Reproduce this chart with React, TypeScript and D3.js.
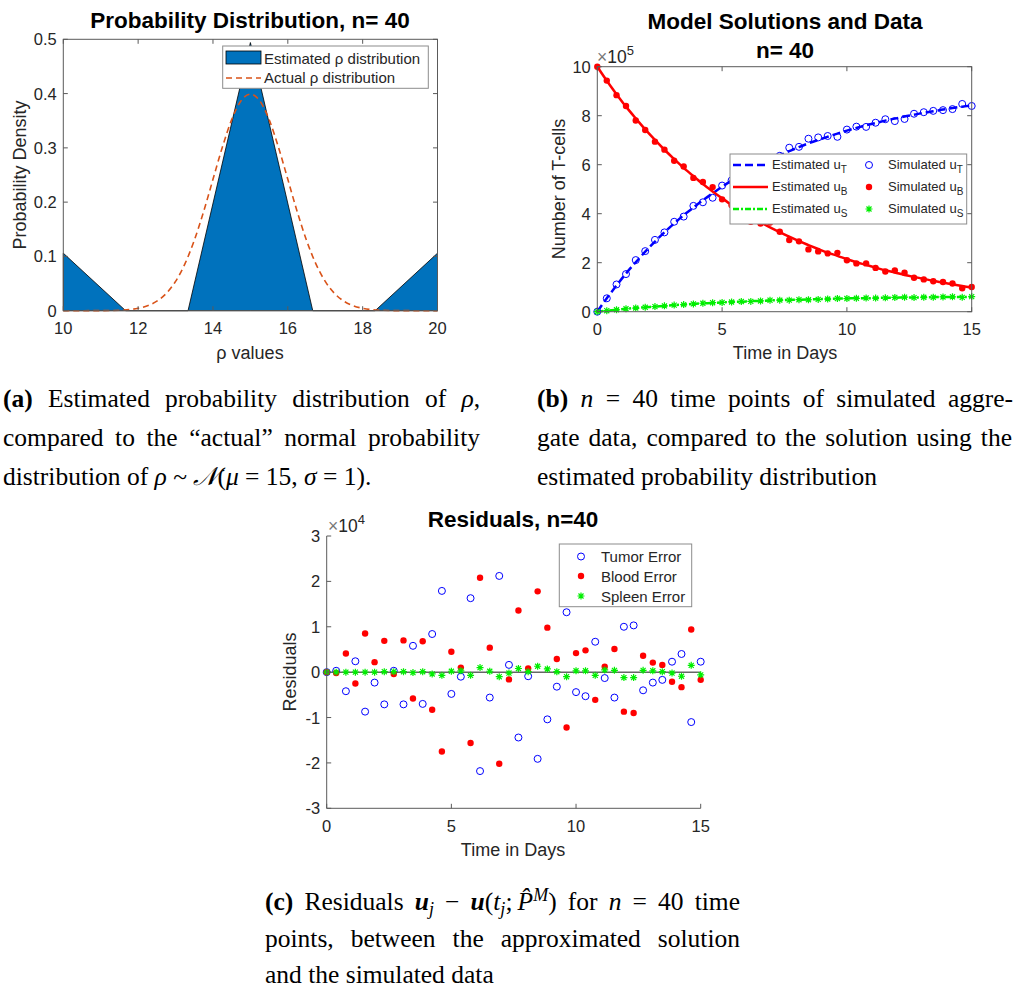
import React, { useEffect, useRef } from 'react';
import * as d3 from 'd3';

// ---- panel (a): probability distribution of rho ----
const rhoNodes = [10, 11.667, 13.333, 15, 16.667, 18.333, 20];
const rhoEstimated = [0.106, 0, 0, 0.494, 0, 0, 0.106];
const rhoActualX = [10, 11, 11.5, 12, 12.25, 12.5, 12.75, 13, 13.25, 13.5, 13.75, 14, 14.25, 14.5, 14.75, 15,
  15.25, 15.5, 15.75, 16, 16.25, 16.5, 16.75, 17, 17.25, 17.5, 17.75, 18, 18.5, 19, 20];
const rhoActualY = [0, 0.0001, 0.0009, 0.0044, 0.0091, 0.0175, 0.0317, 0.054, 0.0863, 0.1295, 0.1826, 0.242, 0.3011, 0.3521, 0.3867, 0.3989,
  0.3867, 0.3521, 0.3011, 0.242, 0.1826, 0.1295, 0.0863, 0.054, 0.0317, 0.0175, 0.0091, 0.0044, 0.0009, 0.0001, 0];
const rhoTicksX = [10, 12, 14, 16, 18, 20];
const rhoTicksY = [0, 0.1, 0.2, 0.3, 0.4, 0.5];

// ---- panel (b): model solutions (x10^5) ----
const tDays = [0, 0.38, 0.77, 1.15, 1.54, 1.92, 2.31, 2.69, 3.08, 3.46, 3.85, 4.23, 4.62, 5, 5.38, 5.77, 6.15, 6.54, 6.92, 7.31,
  7.69, 8.08, 8.46, 8.85, 9.23, 9.62, 10, 10.38, 10.77, 11.15, 11.54, 11.92, 12.31, 12.69, 13.08, 13.46, 13.85, 14.23, 14.62, 15];
const estT = [0, 0.55, 1.07, 1.56, 2.02, 2.45, 2.86, 3.24, 3.6, 3.94, 4.25, 4.55, 4.83, 5.1, 5.35, 5.58, 5.8, 6.01, 6.2, 6.38,
  6.55, 6.72, 6.87, 7.01, 7.14, 7.27, 7.39, 7.5, 7.61, 7.7, 7.8, 7.88, 7.97, 8.04, 8.12, 8.18, 8.25, 8.31, 8.37, 8.42];
const estB = [10, 9.43, 8.88, 8.37, 7.89, 7.44, 7.01, 6.61, 6.23, 5.87, 5.53, 5.21, 4.91, 4.63, 4.36, 4.11, 3.88, 3.65, 3.44, 3.25,
  3.06, 2.88, 2.72, 2.56, 2.41, 2.28, 2.14, 2.02, 1.91, 1.8, 1.69, 1.6, 1.5, 1.42, 1.34, 1.26, 1.19, 1.12, 1.05, 0.99];
const estS = [0, 0.04, 0.08, 0.12, 0.15, 0.18, 0.21, 0.24, 0.27, 0.29, 0.32, 0.34, 0.36, 0.38, 0.4, 0.41, 0.43, 0.44, 0.46, 0.47,
  0.48, 0.49, 0.5, 0.51, 0.52, 0.53, 0.54, 0.55, 0.55, 0.56, 0.57, 0.57, 0.58, 0.58, 0.59, 0.59, 0.6, 0.6, 0.6, 0.61];

// ---- panel (c): residuals (x10^4), plotted as model - data ----
const resT = [0, 0.03, -0.42, 0.24, -0.87, -0.23, -0.71, 0.03, -0.71, 0.58, -0.7, 0.84, 1.79, -0.48, -0.1, 1.63, -2.18, -0.56, 2.12, 0.16,
  -1.44, -0.09, -1.91, -1.04, -0.32, 1.32, -0.44, -0.53, 0.67, -0.13, -0.56, 1.0, 1.03, -0.4, -0.23, -0.17, 0.23, 0.4, -1.1, 0.23];
const resB = [0, -0.02, 0.41, -0.25, 0.85, 0.22, 0.69, -0.04, 0.7, -0.58, 0.68, -0.83, -1.75, 0.45, 0.1, -1.56, 2.08, 0.54, -2.02, -0.16,
  1.36, 0.08, 1.78, 0.98, 0.29, -1.22, 0.42, 0.48, -0.61, 0.12, 0.51, -0.87, -0.9, 0.36, 0.21, 0.16, -0.21, -0.33, 0.94, -0.17];
const resS = [0, 0, 0, 0, 0, 0, 0.01, 0.01, 0.01, -0.01, 0.01, -0.04, -0.07, 0.02, 0.03, -0.07, 0.1, 0.02, -0.1, -0.02,
  0.08, 0.01, 0.13, 0.07, 0.01, -0.1, 0.03, 0.03, -0.07, 0.05, 0.04, -0.12, -0.12, 0.04, 0.03, 0.01, -0.02, -0.09, 0.15, -0.06];
const dayTicks = [0, 5, 10, 15];
const cellTicks = [0, 2, 4, 6, 8, 10];
const resTicks = [-3, -2, -1, 0, 1, 2, 3];

// simulated data = model - residual (1e4 -> 1e5)
const simT = estT.map((v, i) => v - resT[i] / 10);
const simB = estB.map((v, i) => v - resB[i] / 10);
const simS = estS.map((v, i) => v - resS[i] / 10);

const SANS = '"Liberation Sans", Arial, Helvetica, sans-serif';
const SERIF = '"Liberation Serif", "Times New Roman", serif';
const AX = '#5a5a5a';
const TXT = '#262626';
const TICK = 4.5;
const BLUE = '#0000ff';
const RED = '#ff0000';
const GREEN = '#00ee00';

function starPath(x: number, y: number, s: number) {
  const d = s * 0.72;
  return `M${x - s},${y}H${x + s}M${x},${y - s}V${y + s}M${x - d},${y - d}L${x + d},${y + d}M${x - d},${y + d}L${x + d},${y - d}`;
}

function Frame({ x, y, xTicks, yTicks, box, fmt }: any) {
  const [x0, x1] = x.range();
  const [y0, y1] = y.range();
  const f = fmt || ((v: number) => String(v));
  return (
    <g>
      {box ? (
        <rect x={x0} y={y1} width={x1 - x0} height={y0 - y1} fill="none" stroke={AX} strokeWidth={1} />
      ) : (
        <g stroke={AX} strokeWidth={1}>
          <line x1={x0} x2={x0} y1={y0} y2={y1} />
          <line x1={x0} x2={x1} y1={y0} y2={y0} />
        </g>
      )}
      {xTicks.map((t: number) => (
        <g key={'x' + t}>
          <line x1={x(t)} x2={x(t)} y1={y0} y2={y0 - TICK} stroke={AX} />
          {box && <line x1={x(t)} x2={x(t)} y1={y1} y2={y1 + TICK} stroke={AX} />}
          <text x={x(t)} y={y0 + 23.5} textAnchor="middle" fontSize={16.5} fill={TXT}>{f(t)}</text>
        </g>
      ))}
      {yTicks.map((t: number) => (
        <g key={'y' + t}>
          <line x1={x0} x2={x0 + TICK} y1={y(t)} y2={y(t)} stroke={AX} />
          {box && <line x1={x1} x2={x1 - TICK} y1={y(t)} y2={y(t)} stroke={AX} />}
          <text x={x0 - 6.5} y={y(t) + 6} textAnchor="end" fontSize={16.5} fill={TXT}>{f(t)}</text>
        </g>
      ))}
    </g>
  );
}

function PanelA() {
  const x = d3.scaleLinear().domain([10, 20]).range([63.3, 437.5]);
  const y = d3.scaleLinear().domain([0, 0.5]).range([310.7, 39.3]);
  const area = d3.area<number>().x((_, i) => x(rhoNodes[i])).y0(y(0)).y1(d => y(d));
  const line = d3.line<number>().x((_, i) => x(rhoActualX[i])).y(d => y(d)).curve(d3.curveMonotoneX);
  return (
    <g fontFamily={SANS}>
      <path d={area(rhoEstimated) || ''} fill="#0072bd" stroke="#000" strokeWidth={0.8} />
      <path d={line(rhoActualY) || ''} fill="none" stroke="#d95319" strokeWidth={1.6} strokeDasharray="6,4" />
      <Frame x={x} y={y} xTicks={rhoTicksX} yTicks={rhoTicksY} box />
      <text x={250} y={28} textAnchor="middle" fontSize={22.5} fontWeight="bold">Probability Distribution, n= 40</text>
      <text x={250} y={359} textAnchor="middle" fontSize={18} fill={TXT}>ρ values</text>
      <text transform="translate(26,175) rotate(-90)" textAnchor="middle" fontSize={18} fill={TXT}>Probability Density</text>
      <g>
        <rect x={222.7} y={46} width={205.6} height={42.3} fill="#fff" stroke="#8c8c8c" strokeWidth={1} />
        <rect x={226} y={51} width={35} height={13} fill="#0072bd" stroke="#000" strokeWidth={0.8} />
        <line x1={226} x2={261} y1={78} y2={78} stroke="#d95319" strokeWidth={1.6} strokeDasharray="6,4" />
        <text x={264} y={63.5} fontSize={15} fill={TXT}>Estimated ρ distribution</text>
        <text x={264} y={83} fontSize={15} fill={TXT}>Actual ρ distribution</text>
      </g>
    </g>
  );
}

function PanelB() {
  const x = d3.scaleLinear().domain([0, 15]).range([597.3, 971.7]);
  const y = d3.scaleLinear().domain([0, 10]).range([311.7, 66.7]);
  const ln = d3.line<number>().x((_, i) => x(tDays[i])).y(d => y(d)).curve(d3.curveMonotoneX);
  const rows = [
    { lbl: 'T', stroke: BLUE, dash: '8,4', mk: 'o' },
    { lbl: 'B', stroke: RED, dash: undefined, mk: 'dot' },
    { lbl: 'S', stroke: GREEN, dash: '6,2,2,2', mk: 'star' },
  ];
  return (
    <g fontFamily={SANS}>
      <path d={ln(estT) || ''} fill="none" stroke={BLUE} strokeWidth={2.5} strokeDasharray="8,4" />
      <path d={ln(estB) || ''} fill="none" stroke={RED} strokeWidth={2.5} />
      <path d={ln(estS) || ''} fill="none" stroke={GREEN} strokeWidth={2.5} strokeDasharray="6,2,2,2" />
      {simT.map((v, i) => <circle key={'t' + i} cx={x(tDays[i])} cy={y(v)} r={3.5} fill="none" stroke={BLUE} strokeWidth={1} />)}
      {simB.map((v, i) => <circle key={'b' + i} cx={x(tDays[i])} cy={y(v)} r={3.2} fill={RED} />)}
      {simS.map((v, i) => <path key={'s' + i} d={starPath(x(tDays[i]), y(v), 3.5)} stroke={GREEN} strokeWidth={1.2} />)}
      <Frame x={x} y={y} xTicks={dayTicks} yTicks={cellTicks} box />
      <text x={597} y={63} fontSize={17.5} fill={TXT}>
        <tspan fill="#777">×</tspan>10<tspan fontSize={13} dy={-8}>5</tspan>
      </text>
      <text x={785} y={29} textAnchor="middle" fontSize={22.5} fontWeight="bold">Model Solutions and Data</text>
      <text x={785} y={58} textAnchor="middle" fontSize={22.5} fontWeight="bold">n= 40</text>
      <text x={785} y={359} textAnchor="middle" fontSize={18} fill={TXT}>Time in Days</text>
      <text transform="translate(565,189) rotate(-90)" textAnchor="middle" fontSize={18} fill={TXT}>Number of T-cells</text>
      <g>
        <rect x={730} y={154} width={236.7} height={70} fill="#fff" stroke="#8c8c8c" strokeWidth={1} />
        {rows.map((r, i) => {
          const ry = 165 + i * 22;
          return (
            <g key={r.lbl}>
              <line x1={733} x2={768} y1={ry} y2={ry} stroke={r.stroke} strokeWidth={2.5} strokeDasharray={r.dash} />
              <text x={772} y={ry + 4} fontSize={13} fill={TXT}>Estimated u<tspan fontSize={10} dy={4}>{r.lbl}</tspan></text>
              {r.mk === 'o' && <circle cx={869} cy={ry} r={3.5} fill="none" stroke={BLUE} />}
              {r.mk === 'dot' && <circle cx={869} cy={ry} r={3.2} fill={RED} />}
              {r.mk === 'star' && <path d={starPath(869, ry, 3.5)} stroke={GREEN} strokeWidth={1.2} />}
              <text x={888} y={ry + 4} fontSize={13} fill={TXT}>Simulated u<tspan fontSize={10} dy={4}>{r.lbl}</tspan></text>
            </g>
          );
        })}
      </g>
    </g>
  );
}

function PanelC() {
  const x = d3.scaleLinear().domain([0, 15]).range([326.7, 700.7]);
  const y = d3.scaleLinear().domain([-3, 3]).range([808.3, 536]);
  return (
    <g fontFamily={SANS}>
      <line x1={x(0)} x2={x(15)} y1={y(0)} y2={y(0)} stroke="#666" strokeWidth={1.5} />
      {resT.map((v, i) => <circle key={'t' + i} cx={x(tDays[i])} cy={y(v)} r={3.5} fill="none" stroke={BLUE} strokeWidth={1} />)}
      {resB.map((v, i) => <circle key={'b' + i} cx={x(tDays[i])} cy={y(v)} r={3.2} fill={RED} />)}
      {resS.map((v, i) => <path key={'s' + i} d={starPath(x(tDays[i]), y(v), 3.5)} stroke={GREEN} strokeWidth={1.2} />)}
      <Frame x={x} y={y} xTicks={dayTicks} yTicks={resTicks} box={false} />
      <text x={328} y={532} fontSize={17.5} fill={TXT}>
        <tspan fill="#777">×</tspan>10<tspan fontSize={13} dy={-8}>4</tspan>
      </text>
      <text x={513} y={527} textAnchor="middle" fontSize={22.5} fontWeight="bold">Residuals, n=40</text>
      <text x={513} y={856} textAnchor="middle" fontSize={18} fill={TXT}>Time in Days</text>
      <text transform="translate(296,672) rotate(-90)" textAnchor="middle" fontSize={18} fill={TXT}>Residuals</text>
      <g>
        <rect x={559.3} y={544} width={132.4} height={62.7} fill="#fff" stroke="#8c8c8c" strokeWidth={1} />
        <circle cx={581} cy={556.5} r={3.5} fill="none" stroke={BLUE} />
        <text x={601} y={562} fontSize={15} fill={TXT}>Tumor Error</text>
        <circle cx={581} cy={576} r={3.2} fill={RED} />
        <text x={601} y={581.5} fontSize={15} fill={TXT}>Blood Error</text>
        <path d={starPath(581, 596, 3.5)} stroke={GREEN} strokeWidth={1.2} />
        <text x={601} y={601.5} fontSize={15} fill={TXT}>Spleen Error</text>
      </g>
    </g>
  );
}

function Captions() {
  const fs = 25.5;
  const sub = 18;
  return (
    <g fontFamily={SERIF} fontSize={fs} fill="#000">
      <text className="just" data-w={477} x={3} y={407}>
        <tspan fontWeight="bold">(a)</tspan>{' Estimated probability distribution of '}<tspan fontStyle="italic">ρ</tspan>,
      </text>
      <text className="just" data-w={477} x={3} y={446}>compared to the “actual” normal probability</text>
      <text x={3} y={485}>
        {'distribution of '}<tspan fontStyle="italic">ρ</tspan>{' ~ '}<tspan fontStyle="italic">𝒩</tspan>(<tspan fontStyle="italic">μ</tspan>{' = 15, '}<tspan fontStyle="italic">σ</tspan>{' = 1).'}
      </text>

      <text className="just" data-w={476} x={537} y={407}>
        <tspan fontWeight="bold">(b)</tspan>{' '}<tspan fontStyle="italic">n</tspan>{' = 40 time points of simulated aggre-'}
      </text>
      <text className="just" data-w={475} x={537} y={446}>gate data, compared to the solution using the</text>
      <text x={537} y={485}>estimated probability distribution</text>

      <text className="just" data-w={475} x={265} y={910}>
        <tspan fontWeight="bold">(c)</tspan>{' Residuals '}
        <tspan fontWeight="bold" fontStyle="italic">u</tspan>
        <tspan fontStyle="italic" fontSize={sub} dy={5}>j</tspan>
        <tspan dy={-5}>{' − '}</tspan>
        <tspan fontWeight="bold" fontStyle="italic">u</tspan>(<tspan fontStyle="italic">t</tspan>
        <tspan fontStyle="italic" fontSize={sub} dy={5}>j</tspan>
        <tspan dy={-5}>{';\u2009'}</tspan><tspan fontStyle="italic">P̂</tspan>
        <tspan fontStyle="italic" fontSize={sub} dy={-9}>M</tspan>
        <tspan dy={9}>{') for '}</tspan><tspan fontStyle="italic">n</tspan>{' = 40 time'}
      </text>
      <text className="just" data-w={475} x={265} y={947}>points, between the approximated solution</text>
      <text x={265} y={983}>and the simulated data</text>
    </g>
  );
}

export default function App() {
  const ref = useRef<SVGSVGElement>(null);

  useEffect(() => {
    // justify caption lines by stretching the word spaces
    d3.select(ref.current).selectAll<SVGTextElement, unknown>('text.just').each(function () {
      const target = +(this.getAttribute('data-w') || 0);
      this.style.wordSpacing = '0px';
      const natural = this.getComputedTextLength();
      const spaces = ((this.textContent || '').match(/ /g) || []).length;
      if (spaces > 0) this.style.wordSpacing = (target - natural) / spaces + 'px';
    });
  }, []);

  return (
    <svg ref={ref} width={1017} height={989} style={{ position: 'absolute', left: 0, top: 0, background: '#fff' }}>
      <PanelA />
      <PanelB />
      <PanelC />
      <Captions />
    </svg>
  );
}
